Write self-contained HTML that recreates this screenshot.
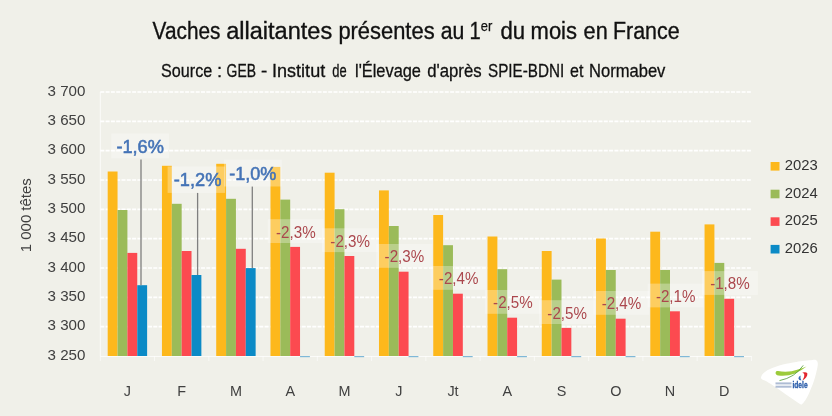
<!DOCTYPE html>
<html><head><meta charset="utf-8"><style>
html,body{margin:0;padding:0;background:#F0F0E9;}
body{width:832px;height:416px;overflow:hidden;}
svg{display:block;font-family:"Liberation Sans", sans-serif;will-change:transform;}
</style></head><body>
<svg width="832" height="416" viewBox="0 0 832 416">
<rect x="0" y="0" width="832" height="416" fill="#F0F0E9"/>

<text x="152.60" y="38.6" font-size="23.3" fill="#111" stroke="#111" stroke-width="0.35" textLength="67.81" lengthAdjust="spacingAndGlyphs">Vaches</text>
<text x="226.20" y="38.6" font-size="23.3" fill="#111" stroke="#111" stroke-width="0.35" textLength="105.99" lengthAdjust="spacingAndGlyphs">allaitantes</text>
<text x="338.40" y="38.6" font-size="23.3" fill="#111" stroke="#111" stroke-width="0.35" textLength="96.19" lengthAdjust="spacingAndGlyphs">présentes</text>
<text x="440.80" y="38.6" font-size="23.3" fill="#111" stroke="#111" stroke-width="0.35" textLength="23.63" lengthAdjust="spacingAndGlyphs">au</text>
<text x="469.60" y="38.6" font-size="23.3" fill="#111" stroke="#111" stroke-width="0.35" textLength="11.20" lengthAdjust="spacingAndGlyphs">1</text>
<text x="500.40" y="38.6" font-size="23.3" fill="#111" stroke="#111" stroke-width="0.35" textLength="24.63" lengthAdjust="spacingAndGlyphs">du</text>
<text x="530.60" y="38.6" font-size="23.3" fill="#111" stroke="#111" stroke-width="0.35" textLength="46.38" lengthAdjust="spacingAndGlyphs">mois</text>
<text x="583.60" y="38.6" font-size="23.3" fill="#111" stroke="#111" stroke-width="0.35" textLength="24.09" lengthAdjust="spacingAndGlyphs">en</text>
<text x="613.00" y="38.6" font-size="23.3" fill="#111" stroke="#111" stroke-width="0.35" textLength="66.65" lengthAdjust="spacingAndGlyphs">France</text>
<text x="161.00" y="76.6" font-size="18.6" fill="#111" stroke="#111" stroke-width="0.3" textLength="51.21" lengthAdjust="spacingAndGlyphs">Source</text>
<text x="217.00" y="76.6" font-size="18.6" fill="#111" stroke="#111" stroke-width="0.3" textLength="5.10" lengthAdjust="spacingAndGlyphs">:</text>
<text x="226.60" y="76.6" font-size="18.6" fill="#111" stroke="#111" stroke-width="0.3" textLength="29.43" lengthAdjust="spacingAndGlyphs">GEB</text>
<text x="261.00" y="76.6" font-size="18.6" fill="#111" stroke="#111" stroke-width="0.3" textLength="6.30" lengthAdjust="spacingAndGlyphs">-</text>
<text x="272.00" y="76.6" font-size="18.6" fill="#111" stroke="#111" stroke-width="0.3" textLength="53.19" lengthAdjust="spacingAndGlyphs">Institut</text>
<text x="332.20" y="76.6" font-size="18.6" fill="#111" stroke="#111" stroke-width="0.3" textLength="14.39" lengthAdjust="spacingAndGlyphs">de</text>
<text x="355.00" y="76.6" font-size="18.6" fill="#111" stroke="#111" stroke-width="0.3" textLength="65.98" lengthAdjust="spacingAndGlyphs">l'Élevage</text>
<text x="427.20" y="76.6" font-size="18.6" fill="#111" stroke="#111" stroke-width="0.3" textLength="54.38" lengthAdjust="spacingAndGlyphs">d'après</text>
<text x="488.00" y="76.6" font-size="18.6" fill="#111" stroke="#111" stroke-width="0.3" textLength="76.19" lengthAdjust="spacingAndGlyphs">SPIE-BDNI</text>
<text x="570.00" y="76.6" font-size="18.6" fill="#111" stroke="#111" stroke-width="0.3" textLength="13.33" lengthAdjust="spacingAndGlyphs">et</text>
<text x="589.00" y="76.6" font-size="18.6" fill="#111" stroke="#111" stroke-width="0.3" textLength="76.38" lengthAdjust="spacingAndGlyphs">Normabev</text>
<text x="480.8" y="30.6" font-size="14.3" fill="#111" stroke="#111" stroke-width="0.25" textLength="11.5" lengthAdjust="spacingAndGlyphs">er</text>
<line x1="100.3" y1="92.00" x2="751.42" y2="92.00" stroke="#FFFFFF" stroke-width="1.6" stroke-dasharray="4 1.3"/>
<line x1="100.3" y1="121.33" x2="751.42" y2="121.33" stroke="#FFFFFF" stroke-width="1.6" stroke-dasharray="4 1.3"/>
<line x1="100.3" y1="150.67" x2="751.42" y2="150.67" stroke="#FFFFFF" stroke-width="1.6" stroke-dasharray="4 1.3"/>
<line x1="100.3" y1="180.00" x2="751.42" y2="180.00" stroke="#FFFFFF" stroke-width="1.6" stroke-dasharray="4 1.3"/>
<line x1="100.3" y1="209.33" x2="751.42" y2="209.33" stroke="#FFFFFF" stroke-width="1.6" stroke-dasharray="4 1.3"/>
<line x1="100.3" y1="238.67" x2="751.42" y2="238.67" stroke="#FFFFFF" stroke-width="1.6" stroke-dasharray="4 1.3"/>
<line x1="100.3" y1="268.00" x2="751.42" y2="268.00" stroke="#FFFFFF" stroke-width="1.6" stroke-dasharray="4 1.3"/>
<line x1="100.3" y1="297.33" x2="751.42" y2="297.33" stroke="#FFFFFF" stroke-width="1.6" stroke-dasharray="4 1.3"/>
<line x1="100.3" y1="326.67" x2="751.42" y2="326.67" stroke="#FFFFFF" stroke-width="1.6" stroke-dasharray="4 1.3"/>
<text x="85.4" y="95.70" font-size="14" fill="#404040" text-anchor="end" textLength="37.9" lengthAdjust="spacingAndGlyphs">3 700</text>
<text x="85.4" y="125.03" font-size="14" fill="#404040" text-anchor="end" textLength="37.9" lengthAdjust="spacingAndGlyphs">3 650</text>
<text x="85.4" y="154.37" font-size="14" fill="#404040" text-anchor="end" textLength="37.9" lengthAdjust="spacingAndGlyphs">3 600</text>
<text x="85.4" y="183.70" font-size="14" fill="#404040" text-anchor="end" textLength="37.9" lengthAdjust="spacingAndGlyphs">3 550</text>
<text x="85.4" y="213.03" font-size="14" fill="#404040" text-anchor="end" textLength="37.9" lengthAdjust="spacingAndGlyphs">3 500</text>
<text x="85.4" y="242.37" font-size="14" fill="#404040" text-anchor="end" textLength="37.9" lengthAdjust="spacingAndGlyphs">3 450</text>
<text x="85.4" y="271.70" font-size="14" fill="#404040" text-anchor="end" textLength="37.9" lengthAdjust="spacingAndGlyphs">3 400</text>
<text x="85.4" y="301.03" font-size="14" fill="#404040" text-anchor="end" textLength="37.9" lengthAdjust="spacingAndGlyphs">3 350</text>
<text x="85.4" y="330.37" font-size="14" fill="#404040" text-anchor="end" textLength="37.9" lengthAdjust="spacingAndGlyphs">3 300</text>
<text x="85.4" y="359.70" font-size="14" fill="#404040" text-anchor="end" textLength="37.9" lengthAdjust="spacingAndGlyphs">3 250</text>
<text transform="translate(31.2,215.2) rotate(-90)" font-size="14" fill="#404040" text-anchor="middle" textLength="74" lengthAdjust="spacingAndGlyphs">1 000 têtes</text>
<line x1="100.3" y1="92.0" x2="100.3" y2="356.0" stroke="#FFFFFF" stroke-opacity="0.75" stroke-width="1"/>
<line x1="100.3" y1="356.5" x2="751.42" y2="356.5" stroke="#FFFFFF" stroke-opacity="0.7" stroke-width="1"/>
<line x1="100.30" y1="356.0" x2="100.30" y2="361.0" stroke="#FFFFFF" stroke-opacity="0.6" stroke-width="1"/>
<line x1="154.56" y1="356.0" x2="154.56" y2="361.0" stroke="#FFFFFF" stroke-opacity="0.6" stroke-width="1"/>
<line x1="208.82" y1="356.0" x2="208.82" y2="361.0" stroke="#FFFFFF" stroke-opacity="0.6" stroke-width="1"/>
<line x1="263.08" y1="356.0" x2="263.08" y2="361.0" stroke="#FFFFFF" stroke-opacity="0.6" stroke-width="1"/>
<line x1="317.34" y1="356.0" x2="317.34" y2="361.0" stroke="#FFFFFF" stroke-opacity="0.6" stroke-width="1"/>
<line x1="371.60" y1="356.0" x2="371.60" y2="361.0" stroke="#FFFFFF" stroke-opacity="0.6" stroke-width="1"/>
<line x1="425.86" y1="356.0" x2="425.86" y2="361.0" stroke="#FFFFFF" stroke-opacity="0.6" stroke-width="1"/>
<line x1="480.12" y1="356.0" x2="480.12" y2="361.0" stroke="#FFFFFF" stroke-opacity="0.6" stroke-width="1"/>
<line x1="534.38" y1="356.0" x2="534.38" y2="361.0" stroke="#FFFFFF" stroke-opacity="0.6" stroke-width="1"/>
<line x1="588.64" y1="356.0" x2="588.64" y2="361.0" stroke="#FFFFFF" stroke-opacity="0.6" stroke-width="1"/>
<line x1="642.90" y1="356.0" x2="642.90" y2="361.0" stroke="#FFFFFF" stroke-opacity="0.6" stroke-width="1"/>
<line x1="697.16" y1="356.0" x2="697.16" y2="361.0" stroke="#FFFFFF" stroke-opacity="0.6" stroke-width="1"/>
<line x1="751.42" y1="356.0" x2="751.42" y2="361.0" stroke="#FFFFFF" stroke-opacity="0.6" stroke-width="1"/>
<rect x="107.69" y="171.5" width="9.855" height="184.50" fill="#FDB81C"/>
<rect x="117.55" y="210" width="9.855" height="146.00" fill="#9BBB59"/>
<rect x="127.40" y="252.9" width="9.855" height="103.10" fill="#FC4A50"/>
<rect x="137.26" y="285.2" width="9.855" height="70.80" fill="#0B8AC6"/>
<rect x="161.95" y="165.8" width="9.855" height="190.20" fill="#FDB81C"/>
<rect x="171.81" y="203.8" width="9.855" height="152.20" fill="#9BBB59"/>
<rect x="181.66" y="251" width="9.855" height="105.00" fill="#FC4A50"/>
<rect x="191.52" y="275" width="9.855" height="81.00" fill="#0B8AC6"/>
<rect x="216.21" y="163.8" width="9.855" height="192.20" fill="#FDB81C"/>
<rect x="226.07" y="198.8" width="9.855" height="157.20" fill="#9BBB59"/>
<rect x="235.92" y="248.8" width="9.855" height="107.20" fill="#FC4A50"/>
<rect x="245.78" y="268.1" width="9.855" height="87.90" fill="#0B8AC6"/>
<rect x="270.47" y="166.9" width="9.855" height="189.10" fill="#FDB81C"/>
<rect x="280.33" y="199.6" width="9.855" height="156.40" fill="#9BBB59"/>
<rect x="290.18" y="246.9" width="9.855" height="109.10" fill="#FC4A50"/>
<rect x="300.04" y="356.0" width="9.855" height="1.2" fill="#7FB8D8"/>
<rect x="324.73" y="172.7" width="9.855" height="183.30" fill="#FDB81C"/>
<rect x="334.59" y="209.2" width="9.855" height="146.80" fill="#9BBB59"/>
<rect x="344.44" y="256" width="9.855" height="100.00" fill="#FC4A50"/>
<rect x="354.30" y="356.0" width="9.855" height="1.2" fill="#7FB8D8"/>
<rect x="378.99" y="190.4" width="9.855" height="165.60" fill="#FDB81C"/>
<rect x="388.85" y="226" width="9.855" height="130.00" fill="#9BBB59"/>
<rect x="398.70" y="271.7" width="9.855" height="84.30" fill="#FC4A50"/>
<rect x="408.56" y="356.0" width="9.855" height="1.2" fill="#7FB8D8"/>
<rect x="433.25" y="215" width="9.855" height="141.00" fill="#FDB81C"/>
<rect x="443.11" y="245.2" width="9.855" height="110.80" fill="#9BBB59"/>
<rect x="452.96" y="293.7" width="9.855" height="62.30" fill="#FC4A50"/>
<rect x="462.82" y="356.0" width="9.855" height="1.2" fill="#7FB8D8"/>
<rect x="487.51" y="236.5" width="9.855" height="119.50" fill="#FDB81C"/>
<rect x="497.37" y="269.2" width="9.855" height="86.80" fill="#9BBB59"/>
<rect x="507.22" y="317.7" width="9.855" height="38.30" fill="#FC4A50"/>
<rect x="517.08" y="356.0" width="9.855" height="1.2" fill="#7FB8D8"/>
<rect x="541.77" y="251" width="9.855" height="105.00" fill="#FDB81C"/>
<rect x="551.63" y="279.6" width="9.855" height="76.40" fill="#9BBB59"/>
<rect x="561.48" y="327.9" width="9.855" height="28.10" fill="#FC4A50"/>
<rect x="571.34" y="356.0" width="9.855" height="1.2" fill="#7FB8D8"/>
<rect x="596.03" y="238.5" width="9.855" height="117.50" fill="#FDB81C"/>
<rect x="605.89" y="270" width="9.855" height="86.00" fill="#9BBB59"/>
<rect x="615.74" y="318.7" width="9.855" height="37.30" fill="#FC4A50"/>
<rect x="625.60" y="356.0" width="9.855" height="1.2" fill="#7FB8D8"/>
<rect x="650.29" y="231.7" width="9.855" height="124.30" fill="#FDB81C"/>
<rect x="660.15" y="270" width="9.855" height="86.00" fill="#9BBB59"/>
<rect x="670.00" y="311.3" width="9.855" height="44.70" fill="#FC4A50"/>
<rect x="679.86" y="356.0" width="9.855" height="1.2" fill="#7FB8D8"/>
<rect x="704.55" y="224.4" width="9.855" height="131.60" fill="#FDB81C"/>
<rect x="714.41" y="262.9" width="9.855" height="93.10" fill="#9BBB59"/>
<rect x="724.26" y="298.8" width="9.855" height="57.20" fill="#FC4A50"/>
<rect x="734.12" y="356.0" width="9.855" height="1.2" fill="#7FB8D8"/>
<line x1="141.0" y1="159.5" x2="141.0" y2="285.2" stroke="#7F7F7F" stroke-width="1.3"/>
<line x1="197.6" y1="192.9" x2="197.6" y2="275" stroke="#7F7F7F" stroke-width="1.3"/>
<line x1="252.3" y1="186.5" x2="252.3" y2="268.1" stroke="#7F7F7F" stroke-width="1.3"/>
<rect x="111.3" y="133.5" width="57.7" height="24.8" fill="#FFFFFF" fill-opacity="0.3"/>
<rect x="167.6" y="166.5" width="57.5" height="26.4" fill="#FFFFFF" fill-opacity="0.3"/>
<rect x="224.0" y="159.6" width="57.8" height="26.9" fill="#FFFFFF" fill-opacity="0.3"/>
<text x="116.4" y="153.2" font-size="18.5" fill="#4473B6" stroke="#4473B6" stroke-width="0.55" textLength="47.5" lengthAdjust="spacingAndGlyphs">-1,6%</text>
<text x="173.8" y="185.7" font-size="18.5" fill="#4473B6" stroke="#4473B6" stroke-width="0.55" textLength="47.6" lengthAdjust="spacingAndGlyphs">-1,2%</text>
<text x="229.3" y="180.2" font-size="18.5" fill="#4473B6" stroke="#4473B6" stroke-width="0.55" textLength="47.1" lengthAdjust="spacingAndGlyphs">-1,0%</text>
<rect x="267.77" y="219.20" width="56" height="23.8" fill="#FFFFFF" fill-opacity="0.3"/>
<text x="276.07" y="237.50" font-size="16.8" fill="#AB474D" textLength="39.6" lengthAdjust="spacingAndGlyphs">-2,3%</text>
<rect x="322.03" y="228.30" width="56" height="23.8" fill="#FFFFFF" fill-opacity="0.3"/>
<text x="330.33" y="246.60" font-size="16.8" fill="#AB474D" textLength="39.6" lengthAdjust="spacingAndGlyphs">-2,3%</text>
<rect x="376.29" y="244.00" width="56" height="23.8" fill="#FFFFFF" fill-opacity="0.3"/>
<text x="384.59" y="262.30" font-size="16.8" fill="#AB474D" textLength="39.6" lengthAdjust="spacingAndGlyphs">-2,3%</text>
<rect x="430.55" y="266.00" width="56" height="23.8" fill="#FFFFFF" fill-opacity="0.3"/>
<text x="438.85" y="284.30" font-size="16.8" fill="#AB474D" textLength="39.6" lengthAdjust="spacingAndGlyphs">-2,4%</text>
<rect x="484.81" y="290.00" width="56" height="23.8" fill="#FFFFFF" fill-opacity="0.3"/>
<text x="493.11" y="308.30" font-size="16.8" fill="#AB474D" textLength="39.6" lengthAdjust="spacingAndGlyphs">-2,5%</text>
<rect x="539.07" y="300.20" width="56" height="23.8" fill="#FFFFFF" fill-opacity="0.3"/>
<text x="547.37" y="318.50" font-size="16.8" fill="#AB474D" textLength="39.6" lengthAdjust="spacingAndGlyphs">-2,5%</text>
<rect x="593.33" y="291.00" width="56" height="23.8" fill="#FFFFFF" fill-opacity="0.3"/>
<text x="601.63" y="309.30" font-size="16.8" fill="#AB474D" textLength="39.6" lengthAdjust="spacingAndGlyphs">-2,4%</text>
<rect x="647.59" y="283.60" width="56" height="23.8" fill="#FFFFFF" fill-opacity="0.3"/>
<text x="655.89" y="301.90" font-size="16.8" fill="#AB474D" textLength="39.6" lengthAdjust="spacingAndGlyphs">-2,1%</text>
<rect x="701.85" y="271.10" width="56" height="23.8" fill="#FFFFFF" fill-opacity="0.3"/>
<text x="710.15" y="289.40" font-size="16.8" fill="#AB474D" textLength="39.6" lengthAdjust="spacingAndGlyphs">-1,8%</text>
<text x="127.43" y="396.3" font-size="14.4" fill="#404040" text-anchor="middle">J</text>
<text x="181.69" y="396.3" font-size="14.4" fill="#404040" text-anchor="middle">F</text>
<text x="235.95" y="396.3" font-size="14.4" fill="#404040" text-anchor="middle">M</text>
<text x="290.21" y="396.3" font-size="14.4" fill="#404040" text-anchor="middle">A</text>
<text x="344.47" y="396.3" font-size="14.4" fill="#404040" text-anchor="middle">M</text>
<text x="398.73" y="396.3" font-size="14.4" fill="#404040" text-anchor="middle">J</text>
<text x="452.99" y="396.3" font-size="14.4" fill="#404040" text-anchor="middle">Jt</text>
<text x="507.25" y="396.3" font-size="14.4" fill="#404040" text-anchor="middle">A</text>
<text x="561.51" y="396.3" font-size="14.4" fill="#404040" text-anchor="middle">S</text>
<text x="615.77" y="396.3" font-size="14.4" fill="#404040" text-anchor="middle">O</text>
<text x="670.03" y="396.3" font-size="14.4" fill="#404040" text-anchor="middle">N</text>
<text x="724.29" y="396.3" font-size="14.4" fill="#404040" text-anchor="middle">D</text>
<rect x="770.6" y="162" width="8.9" height="8.6" fill="#FDB81C"/>
<text x="784.7" y="169.8" font-size="14" fill="#333" textLength="33" lengthAdjust="spacingAndGlyphs">2023</text>
<rect x="770.6" y="189.7" width="8.9" height="8.6" fill="#9BBB59"/>
<text x="784.7" y="197.5" font-size="14" fill="#333" textLength="33" lengthAdjust="spacingAndGlyphs">2024</text>
<rect x="770.6" y="217.3" width="8.9" height="8.6" fill="#FC4A50"/>
<text x="784.7" y="225.1" font-size="14" fill="#333" textLength="33" lengthAdjust="spacingAndGlyphs">2025</text>
<rect x="770.6" y="244.9" width="8.9" height="8.6" fill="#0B8AC6"/>
<text x="784.7" y="252.7" font-size="14" fill="#333" textLength="33" lengthAdjust="spacingAndGlyphs">2026</text>
<path d="M761.00 377.60 C761.13 376.60 761.78 374.98 763.20 373.60 C764.62 372.22 766.22 370.80 769.50 369.30 C772.78 367.80 778.42 365.83 782.90 364.60 C787.38 363.37 791.47 362.67 796.40 361.90 C801.33 361.13 809.23 360.28 812.50 360.00 C815.77 359.72 815.15 359.83 816.00 360.20 C816.85 360.57 817.37 360.98 817.60 362.20 C817.83 363.42 818.02 364.37 817.40 367.50 C816.78 370.63 815.38 376.52 813.90 381.00 C812.42 385.48 810.10 390.97 808.50 394.40 C806.90 397.83 805.35 400.00 804.30 401.60 C803.25 403.20 802.92 403.60 802.20 404.00 C801.48 404.40 802.10 405.17 800.00 404.00 C797.90 402.83 793.57 399.73 789.60 397.00 C785.63 394.27 780.00 390.17 776.20 387.60 C772.40 385.03 769.10 382.93 766.80 381.60 C764.50 380.27 763.37 380.27 762.40 379.60 C761.43 378.93 760.87 378.60 761.00 377.60 Z" fill="#FFFFFF"/>
<path d="M775.6 372.4 Q776 370.8 778 371.1 Q788 373.2 798 369.6 Q803 368 806.5 366.6 Q801 371 795 373.6 Q787 376.6 778.5 375.6 Q775.4 375 775.6 372.4 Z" fill="#9CCB3B"/>
<path d="M779.5 380.6 Q795 377.5 803.2 365.4" stroke="#4E9A35" stroke-width="0.8" fill="none"/>
<path d="M802.2 372.6 Q806.2 371.4 807.4 373.4 Q807.6 377.5 802.4 380.6 Q804.8 377 804.3 374.6 Q803.8 373.3 802.2 372.6 Z" fill="#E3262F"/>
<path d="M800.6 375.4 Q798.4 376.4 798.4 378.6 Q798.8 380.4 801.4 380.5 Q799.9 378.6 800.6 375.4 Z" fill="#3A6DB5"/>
<rect x="775.5" y="382.4" width="16" height="2" fill="#3E5F98" fill-opacity="0.42"/>
<rect x="775.5" y="385.7" width="16" height="2" fill="#3E5F98" fill-opacity="0.42"/>
<text x="792.4" y="388.4" font-size="8.8" fill="#2B5DAA" stroke="#2B5DAA" stroke-width="0.35" font-weight="bold" textLength="15.2" lengthAdjust="spacingAndGlyphs">idele</text>
</svg></body></html>
